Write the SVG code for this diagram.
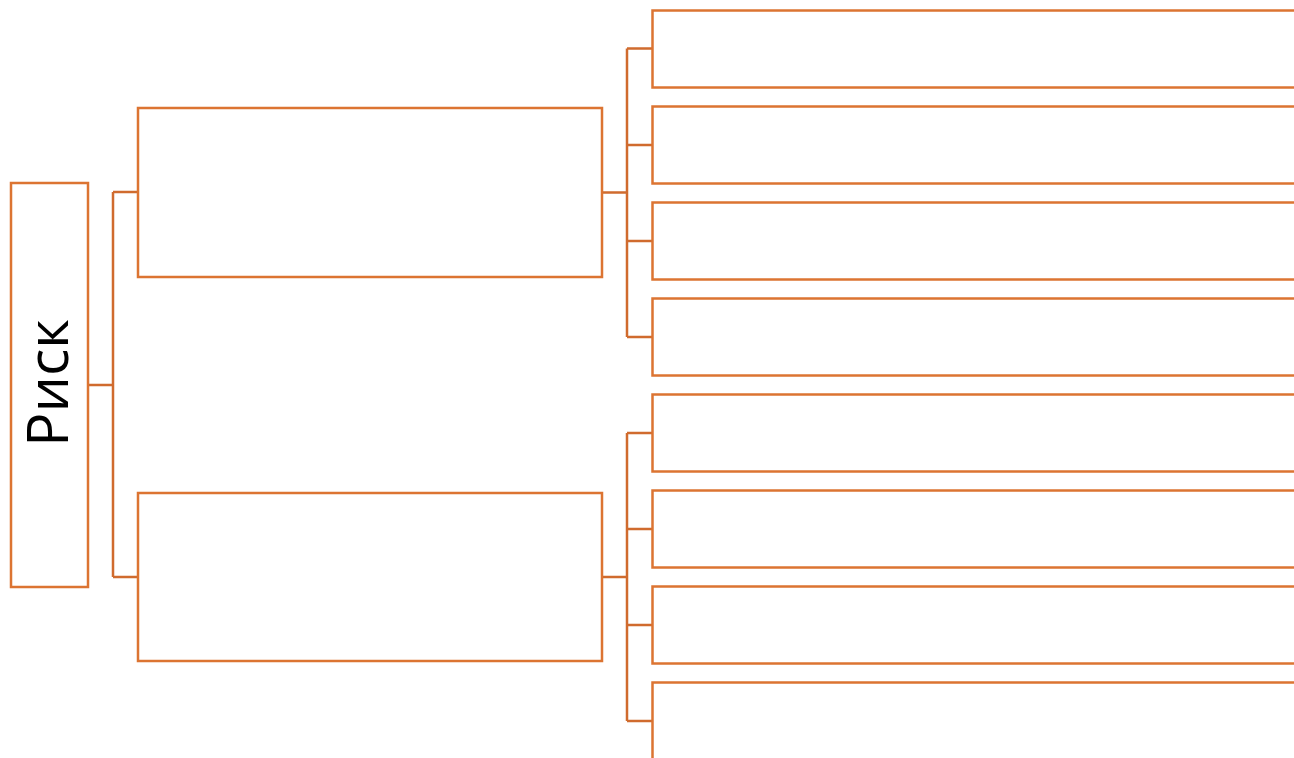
<svg xmlns="http://www.w3.org/2000/svg" width="1294" height="758" viewBox="0 0 1294 758">
<style>
.box{fill:#FFFFFF;stroke:#DC7432;stroke-width:2.5}
.conn{fill:none;stroke:#D06B2E;stroke-width:2.5}
.lbl{font-family:"Open Sans","DejaVu Sans",sans-serif;font-size:57px;font-weight:500;fill:#000000}
</style>
<rect width="1294" height="758" fill="#FFFFFF"/>
<g id="connectors">
<path class="conn" d="M88,385 H113 M113,192 V577 M113,192 H138 M113,577 H138"/>
<path class="conn" d="M602,192.5 H627 M627,48.5 V337 M627,48.5 H652 M627,145 H652 M627,241 H652 M627,337 H652"/>
<path class="conn" d="M602,577 H627 M627,433 V721 M627,433 H652 M627,529 H652 M627,625 H652 M627,721 H652"/>
</g>
<g id="risk">
<rect class="box" x="11" y="183" width="77" height="404"/>
<text class="lbl" transform="translate(68,383) rotate(-90)" text-anchor="middle">Риск</text>
</g>
<g id="mid1"><rect class="box" x="138" y="108" width="464" height="169"/></g>
<g id="mid2"><rect class="box" x="138" y="493" width="464" height="168"/></g>
<g id="r1"><rect class="box" x="652.5" y="10.5" width="700" height="77"/></g>
<g id="r2"><rect class="box" x="652.5" y="106.5" width="700" height="77"/></g>
<g id="r3"><rect class="box" x="652.5" y="202.5" width="700" height="77"/></g>
<g id="r4"><rect class="box" x="652.5" y="298.5" width="700" height="77"/></g>
<g id="r5"><rect class="box" x="652.5" y="394.5" width="700" height="77"/></g>
<g id="r6"><rect class="box" x="652.5" y="490.5" width="700" height="77"/></g>
<g id="r7"><rect class="box" x="652.5" y="586.5" width="700" height="77"/></g>
<g id="r8"><rect class="box" x="652.5" y="682.5" width="700" height="100"/></g>
</svg>
